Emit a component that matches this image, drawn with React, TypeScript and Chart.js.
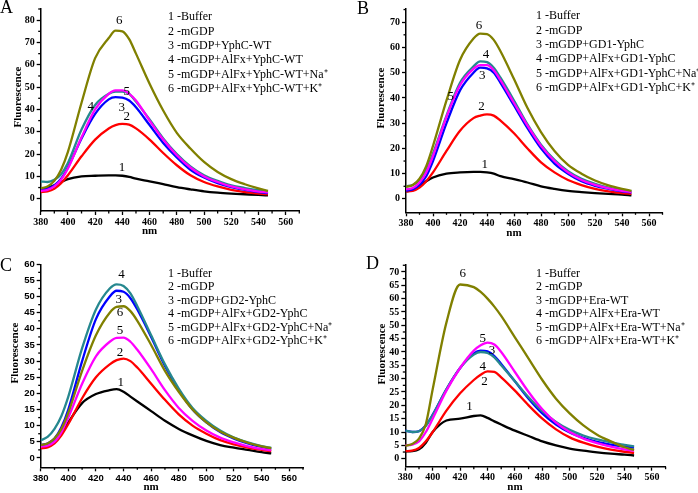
import React, { useEffect, useRef } from 'react';
import { Chart, registerables } from 'chart.js';

Chart.register(...registerables);

// ---------- shared data ----------
const WAVELENGTHS = [380, 385, 390, 395, 400, 410, 420, 430, 435, 440, 445, 450, 460, 470, 480, 490, 500, 510, 520, 530, 540, 547];
const X_MIN = 380;
const X_MAX = 570;
const X_STEP = 20;
const SERIES_COLORS = ['#000000', '#ff0000', '#0000ff', '#26888f', '#ff00ff', '#808000'];

// ---------- Panel A ----------
const A_BUFFER = [4.5, 5, 6, 7.5, 8.8, 10, 10.3, 10.5, 10.5, 10.3, 9.8, 9, 7.8, 6.5, 5.2, 4.2, 3.3, 2.7, 2.3, 2, 1.7, 1.5];
const A_MGDP = [3, 3.3, 4.5, 7, 10.5, 19, 26.5, 31.5, 33, 33.5, 33.2, 31.5, 26.5, 20.5, 15, 10.5, 7.5, 5.5, 4, 3, 2.3, 2];
const A_YPHC = [4, 4.5, 6, 9, 14, 27, 38, 44.5, 45.5, 45.3, 44, 41, 33, 25, 18.5, 13, 9.5, 7, 5.2, 4, 3, 2.5];
const A_ALFX = [7.7, 7.5, 8.5, 11, 16, 31, 42, 47, 48, 48, 47, 43.5, 35.5, 27, 20, 14.5, 10.5, 8, 6, 4.8, 3.8, 3.3];
const A_NA = [3.5, 4, 5.5, 8.5, 13.5, 27.5, 40, 47, 48.5, 48.5, 47, 44, 35, 26.5, 19.5, 14, 10, 7.5, 5.5, 4.2, 3.2, 2.8];
const A_K = [4.7, 5.5, 8, 13, 21, 43, 63, 72, 75.3, 75, 71.5, 65, 51.5, 39.5, 29.5, 22.5, 16.5, 12, 8.8, 6.5, 4.6, 3.5];
const A_LEGEND = ['1 -Buffer', '2 -mGDP', '3 -mGDP+YphC-WT', '4 -mGDP+AlFx+YphC-WT', '5 -mGDP+AlFx+YphC-WT+Na\u207A', '6 -mGDP+AlFx+YphC-WT+K\u207A'];
const A_TAG_TEXT = ['6', '5', '4', '3', '2', '1'];
const A_TAG_NM = [437.8, 443.2, 416.7, 439.5, 443.2, 439.7];
const A_TAG_VAL = [79.7, 47.9, 41.2, 40.8, 36.7, 13.9];

// ---------- Panel B ----------
const B_BUFFER = [3, 3.5, 5, 7, 8.5, 10, 10.5, 10.7, 10.7, 10.5, 10, 9, 7.8, 6.5, 5, 4, 3.2, 2.7, 2.3, 2, 1.7, 1.4];
const B_MGDP = [3, 3.2, 4.5, 7, 10.5, 19, 27, 32, 33, 33.5, 33, 31, 26, 20, 14.5, 10.5, 7.5, 5.5, 4, 3, 2.3, 2];
const B_GD1 = [3.3, 3.8, 5.5, 9, 15, 30, 43, 50, 52, 51.7, 50, 46, 37, 28, 20, 14, 10, 7, 5.2, 4, 3, 2.5];
const B_ALFX = [5, 5.5, 7.5, 11.5, 18, 33, 46, 52.5, 54.5, 54.2, 52, 48, 39, 29.5, 21.5, 15.5, 11, 8, 6, 4.5, 3.5, 3];
const B_NA = [3.8, 4.3, 6.5, 10.5, 17, 32.5, 45, 51.5, 53, 53, 51, 47, 38, 29, 21, 15, 10.5, 7.5, 5.6, 4.2, 3.2, 2.7];
const B_K = [4.8, 5.5, 8, 13, 21, 39, 55, 63.5, 65.5, 65.3, 63, 58.5, 47.5, 36, 26.5, 19, 13.5, 10, 7.3, 5.4, 4, 3.2];
const B_LEGEND = ['1 -Buffer', '2 -mGDP', '3 -mGDP+GD1-YphC', '4 -mGDP+AlFx+GD1-YphC', '5 -mGDP+AlFx+GD1-YphC+Na\u207A', '6 -mGDP+AlFx+GD1-YphC+K\u207A'];
const B_TAG_TEXT = ['6', '4', '3', '5', '2', '1'];
const B_TAG_NM = [434, 439.3, 436.4, 413.1, 435.9, 438.3];
const B_TAG_VAL = [68.8, 57.1, 49, 40.4, 36.7, 13.6];

// ---------- Panel C ----------
const C_BUFFER = [3.5, 3.8, 5, 7.5, 11, 17, 19.8, 21, 21.3, 20.5, 19, 17.5, 14.5, 11.5, 9, 7, 5.3, 4, 3.2, 2.5, 1.8, 1.4];
const C_MGDP = [3, 3.3, 4.5, 7, 10.5, 18.5, 25, 29, 30.3, 30.8, 30, 28, 23, 18, 13.5, 10, 7.5, 5.5, 4.2, 3.2, 2.5, 2.1];
const C_GD2 = [4, 4.5, 6, 9.5, 15, 30, 43, 50, 51.8, 51.5, 49.5, 46, 37.5, 28.5, 21, 15, 11, 8, 6, 4.5, 3.4, 2.8];
const C_ALFX = [5.5, 6.5, 9, 13, 19, 34, 46, 52.5, 53.8, 53.3, 51, 47, 38, 29, 21.5, 15.5, 11.5, 8.5, 6.3, 4.8, 3.7, 3.1];
const C_NA = [3.5, 3.8, 5, 8, 12.5, 23, 31.5, 36, 37.2, 37.3, 36, 33.5, 27.5, 21, 15.5, 11.5, 8.5, 6.3, 4.8, 3.6, 2.8, 2.4];
const C_K = [4, 4.5, 6, 9, 14, 27, 38, 45, 46.8, 47, 45.5, 42.5, 35, 27, 20.5, 15, 11, 8.2, 6.2, 4.7, 3.6, 3];
const C_LEGEND = ['1 -Buffer', '2 -mGDP', '3 -mGDP+GD2-YphC', '4 -mGDP+AlFx+GD2-YphC', '5 -mGDP+AlFx+GD2-YphC+Na\u207A', '6 -mGDP+AlFx+GD2-YphC+K\u207A'];
const C_TAG_TEXT = ['4', '3', '6', '5', '2', '1'];
const C_TAG_NM = [438.5, 436.6, 437.5, 437.5, 437.5, 438];
const C_TAG_VAL = [56.8, 49.1, 45.1, 39.5, 32.5, 23.2];

// ---------- Panel D ----------
const D_BUFFER = [2.7, 2.8, 3.5, 6, 10, 14.3, 15, 16, 16.2, 15.3, 14, 12.8, 10.5, 8.5, 6.5, 5, 3.8, 3, 2.4, 1.9, 1.5, 1.2];
const D_MGDP = [2.8, 3, 4, 6.5, 10, 18, 24.5, 29.5, 31.5, 32.7, 32.5, 30.5, 25.5, 20, 15, 11, 8, 6, 4.5, 3.4, 2.6, 2.2];
const D_ERA = [10.5, 10, 10.3, 12.5, 16.5, 26, 34, 39.5, 40.5, 40.2, 38.5, 35.5, 29, 22.5, 17, 12.8, 9.8, 7.8, 6.3, 5.3, 4.5, 4.2];
const D_ALFX = [10.5, 10, 10.3, 12.3, 16.3, 26, 34, 39, 40, 39.6, 38, 35, 29, 23, 17.8, 13.8, 10.8, 8.7, 7.2, 6.1, 5.2, 4.6];
const D_NA = [5, 5.3, 6.5, 10, 15, 25.5, 34, 40.5, 42.5, 43.5, 42.8, 40, 32.5, 25, 18.5, 13.5, 10, 7.5, 5.8, 4.5, 3.5, 3];
const D_K = [4.8, 5.5, 7.5, 13, 26, 51, 65.3, 64.3, 62.5, 60, 57, 53.5, 45.5, 37.5, 29.5, 22.5, 17, 12.5, 9, 6.5, 4.3, 3.3];
const D_LEGEND = ['1 -Buffer', '2 -mGDP', '3 -mGDP+Era-WT', '4 -mGDP+AlFx+Era-WT', '5 -mGDP+AlFx+Era-WT+Na\u207A', '6 -mGDP+AlFx+Era-WT+K\u207A'];
const D_TAG_TEXT = ['6', '5', '3', '4', '2', '1'];
const D_TAG_NM = [422, 436.6, 443.2, 436.6, 437.8, 426.8];
const D_TAG_VAL = [69.5, 45.1, 40.7, 34.7, 28.8, 19.4];

type PanelCfg = {
  letter: string;
  left: number; top: number; w: number; h: number;
  yAxisW: number; padRight: number; padTop: number; xAxisH: number;
  yMin: number; yMax: number; yStep: number;
  tickFamily: string; tickSize: number;
  series: number[][];
  legend: string[];
  tagText: string[]; tagNm: number[]; tagVal: number[];
  legendX: number; legendY: number; legendStep: number;
  letterX: number; letterY: number;
  fluorX: number; fluorY: number; nmY: number;
};

const PANELS: PanelCfg[] = [
  {
    letter: 'A', left: 0, top: 0, w: 349, h: 240,
    yAxisW: 40.7, padRight: 49.7, padTop: 9, xAxisH: 29,
    yMin: -5.5, yMax: 85, yStep: 10,
    tickFamily: '"Liberation Serif", "Times New Roman", serif', tickSize: 10,
    series: [A_BUFFER, A_MGDP, A_YPHC, A_ALFX, A_NA, A_K],
    legend: A_LEGEND, tagText: A_TAG_TEXT, tagNm: A_TAG_NM, tagVal: A_TAG_VAL,
    legendX: 168, legendY: 17, legendStep: 14.4,
    letterX: 0, letterY: 13, fluorX: 18, fluorY: 97, nmY: 231,
  },
  {
    letter: 'B', left: 349, top: 0, w: 349, h: 240,
    yAxisW: 57, padRight: 35.5, padTop: 8.3, xAxisH: 27.7,
    yMin: -5.3, yMax: 75.5, yStep: 10,
    tickFamily: '"Liberation Serif", "Times New Roman", serif', tickSize: 10,
    series: [B_BUFFER, B_MGDP, B_GD1, B_ALFX, B_NA, B_K],
    legend: B_LEGEND, tagText: B_TAG_TEXT, tagNm: B_TAG_NM, tagVal: B_TAG_VAL,
    legendX: 187, legendY: 16, legendStep: 14.4,
    letterX: 8, letterY: 14, fluorX: 32, fluorY: 98, nmY: 233,
  },
  {
    letter: 'C', left: 0, top: 240, w: 349, h: 253,
    yAxisW: 40.7, padRight: 46, padTop: 24.3, xAxisH: 25.7,
    yMin: -2.9, yMax: 60, yStep: 5,
    tickFamily: '"Liberation Sans", Arial, sans-serif', tickSize: 9.5,
    series: [C_BUFFER, C_MGDP, C_GD2, C_ALFX, C_NA, C_K],
    legend: C_LEGEND, tagText: C_TAG_TEXT, tagNm: C_TAG_NM, tagVal: C_TAG_VAL,
    legendX: 168, legendY: 33.5, legendStep: 13.5,
    letterX: 0, letterY: 31, fluorX: 15, fluorY: 113, nmY: 247,
  },
  {
    letter: 'D', left: 349, top: 240, w: 349, h: 253,
    yAxisW: 56.3, padRight: 32.4, padTop: 25, xAxisH: 26.3,
    yMin: -3, yMax: 72.6, yStep: 5,
    tickFamily: '"Liberation Serif", "Times New Roman", serif', tickSize: 10,
    series: [D_BUFFER, D_MGDP, D_ERA, D_ALFX, D_NA, D_K],
    legend: D_LEGEND, tagText: D_TAG_TEXT, tagNm: D_TAG_NM, tagVal: D_TAG_VAL,
    legendX: 187, legendY: 33.5, legendStep: 13.5,
    letterX: 17, letterY: 29, fluorX: 33, fluorY: 114, nmY: 247,
  },
];

const SERIF = '"Liberation Serif", "Times New Roman", serif';

function makeDecor(cfg: PanelCfg) {
  return {
    id: 'decor' + cfg.letter,
    afterDraw(chart: any) {
      const ctx: CanvasRenderingContext2D = chart.ctx;
      const xs = chart.scales.x;
      const ys = chart.scales.y;
      const { left, bottom } = chart.chartArea;
      ctx.save();
      ctx.strokeStyle = '#000';
      ctx.lineWidth = 1.3;
      // minor x ticks
      for (let v = X_MIN + X_STEP / 2; v <= X_MAX + 0.001; v += X_STEP) {
        const px = xs.getPixelForValue(v);
        ctx.beginPath();
        ctx.moveTo(px, bottom);
        ctx.lineTo(px, bottom + 2.5);
        ctx.stroke();
      }
      // minor y ticks
      const half = cfg.yStep / 2;
      for (let v = half; v <= cfg.yMax + 0.001; v += cfg.yStep) {
        const py = ys.getPixelForValue(v);
        ctx.beginPath();
        ctx.moveTo(left, py);
        ctx.lineTo(left - 2.5, py);
        ctx.stroke();
      }
      ctx.fillStyle = '#000';
      // axis titles
      ctx.font = 'bold 11px ' + SERIF;
      ctx.textAlign = 'center';
      ctx.textBaseline = 'middle';
      ctx.fillText('nm', xs.getPixelForValue(460), cfg.nmY);
      ctx.save();
      ctx.translate(cfg.fluorX, cfg.fluorY);
      ctx.rotate(-Math.PI / 2);
      ctx.fillText('Fluorescence', 0, 0);
      ctx.restore();
      // curve number tags
      ctx.font = '13px ' + SERIF;
      cfg.tagText.forEach((t, i) => {
        ctx.fillText(t, xs.getPixelForValue(cfg.tagNm[i]), ys.getPixelForValue(cfg.tagVal[i]));
      });
      // legend text
      ctx.textAlign = 'left';
      ctx.font = '12px ' + SERIF;
      cfg.legend.forEach((t, i) => {
        ctx.fillText(t, cfg.legendX, cfg.legendY + i * cfg.legendStep);
      });
      // panel letter
      ctx.textBaseline = 'alphabetic';
      ctx.font = '18px ' + SERIF;
      ctx.fillText(cfg.letter, cfg.letterX, cfg.letterY);
      ctx.restore();
    },
  };
}

function Panel({ cfg }: { cfg: PanelCfg }) {
  const ref = useRef<HTMLCanvasElement>(null);
  useEffect(() => {
    const canvas = ref.current;
    if (!canvas) return;
    const chart = new Chart(canvas, {
      type: 'line',
      data: {
        datasets: cfg.series.map((s, i) => ({
          label: cfg.legend[i],
          data: WAVELENGTHS.map((w, j) => ({ x: w, y: s[j] })),
          borderColor: SERIES_COLORS[i],
          backgroundColor: SERIES_COLORS[i],
          borderWidth: 2.3,
          pointRadius: 0,
          fill: false,
          cubicInterpolationMode: 'monotone',
          order: -i,
        })),
      },
      options: {
        responsive: false,
        animation: false,
        events: [],
        layout: { padding: { left: 0, right: cfg.padRight, top: cfg.padTop, bottom: 0 } },
        plugins: { legend: { display: false }, tooltip: { enabled: false } },
        scales: {
          x: {
            type: 'linear',
            min: X_MIN,
            max: X_MAX,
            afterFit: (s: any) => { s.height = cfg.xAxisH; },
            ticks: {
              stepSize: X_STEP,
              includeBounds: false,
              autoSkip: false,
              maxRotation: 0,
              color: '#000',
              padding: 1,
              font: { family: cfg.tickFamily, size: cfg.tickSize, weight: 'bold' },
            },
            grid: { drawOnChartArea: false, drawTicks: true, tickLength: 4, tickColor: '#000', tickWidth: 1.3 },
            border: { display: true, color: '#000', width: 1.5 },
          },
          y: {
            type: 'linear',
            min: cfg.yMin,
            max: cfg.yMax,
            afterFit: (s: any) => { s.width = cfg.yAxisW; },
            ticks: {
              stepSize: cfg.yStep,
              includeBounds: false,
              autoSkip: false,
              color: '#000',
              padding: 2,
              font: { family: cfg.tickFamily, size: cfg.tickSize, weight: 'bold' },
            },
            grid: { drawOnChartArea: false, drawTicks: true, tickLength: 4, tickColor: '#000', tickWidth: 1.3 },
            border: { display: true, color: '#000', width: 1.5 },
          },
        },
      } as any,
      plugins: [makeDecor(cfg)],
    });
    return () => chart.destroy();
  }, [cfg]);
  return (
    <canvas
      ref={ref}
      width={cfg.w}
      height={cfg.h}
      style={{ position: 'absolute', left: cfg.left, top: cfg.top, width: cfg.w, height: cfg.h }}
    />
  );
}

export default function App() {
  return (
    <div style={{ position: 'fixed', left: 0, top: 0, width: 698, height: 493, background: '#fff', overflow: 'hidden' }}>
      {PANELS.map((p) => (
        <Panel key={p.letter} cfg={p} />
      ))}
    </div>
  );
}
